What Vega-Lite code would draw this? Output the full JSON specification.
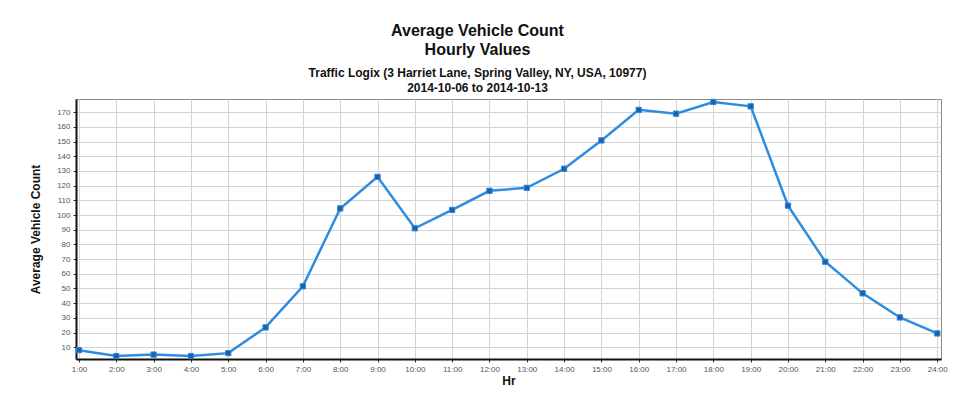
{
  "$schema": "https://vega.github.io/schema/vega-lite/v6.json",
  "width": 865,
  "height": 260,
  "autosize": {"type": "none"},
  "padding": {"left": 76, "top": 99, "right": 14, "bottom": 47},
  "background": "white",
  "title": {
    "text": ["Average Vehicle Count", "Hourly Values"],
    "subtitle": ["Traffic Logix (3 Harriet Lane, Spring Valley, NY, USA, 10977)", "2014-10-06 to 2014-10-13"],
    "anchor": "middle",
    "dx": -31,
    "offset": 3,
    "font": "Liberation Sans",
    "fontSize": 16,
    "fontWeight": "bold",
    "lineHeight": 19,
    "color": "#111",
    "subtitleFont": "Liberation Sans",
    "subtitleFontSize": 12,
    "subtitleFontWeight": "bold",
    "subtitleLineHeight": 15,
    "subtitleColor": "#111",
    "subtitlePadding": 10
  },
  "config": {
    "view": {"stroke": "#8a8a8a", "strokeWidth": 1},
    "axis": {
      "labelFont": "Liberation Sans",
      "labelFontSize": 8,
      "labelColor": "#555",
      "titleFont": "Liberation Sans",
      "titleFontSize": 12,
      "titleFontWeight": "bold",
      "titleColor": "#111",
      "gridColor": "#d4d4d4",
      "gridWidth": 1,
      "domainColor": "#111",
      "domainWidth": 2,
      "tickColor": "#333",
      "tickSize": 3
    }
  },
  "data": {
    "values": [
      {"hour": 1, "count": 8},
      {"hour": 2, "count": 4},
      {"hour": 3, "count": 5},
      {"hour": 4, "count": 4},
      {"hour": 5, "count": 6},
      {"hour": 6, "count": 23.5},
      {"hour": 7, "count": 51.5},
      {"hour": 8, "count": 104.5},
      {"hour": 9, "count": 126},
      {"hour": 10, "count": 91},
      {"hour": 11, "count": 103.5},
      {"hour": 12, "count": 116.5},
      {"hour": 13, "count": 118.5},
      {"hour": 14, "count": 131.5},
      {"hour": 15, "count": 150.8},
      {"hour": 16, "count": 171.6},
      {"hour": 17, "count": 169},
      {"hour": 18, "count": 177},
      {"hour": 19, "count": 174},
      {"hour": 20, "count": 106.4},
      {"hour": 21, "count": 68.2},
      {"hour": 22, "count": 46.7},
      {"hour": 23, "count": 30.3},
      {"hour": 24, "count": 19.4}
    ]
  },
  "encoding": {
    "x": {
      "field": "hour",
      "type": "quantitative",
      "title": "Hr",
      "scale": {"domain": [0.92, 24.1], "nice": false, "zero": false},
      "axis": {
        "values": [1,2,3,4,5,6,7,8,9,10,11,12,13,14,15,16,17,18,19,20,21,22,23,24],
        "labelExpr": "datum.value + ':00'",
        "labelPadding": 3,
        "titlePadding": 2
      }
    },
    "y": {
      "field": "count",
      "type": "quantitative",
      "title": "Average Vehicle Count",
      "scale": {"domain": [2, 179], "nice": false, "zero": false},
      "axis": {
        "values": [10,20,30,40,50,60,70,80,90,100,110,120,130,140,150,160,170],
        "labelPadding": 3,
        "titlePadding": 14
      }
    }
  },
  "layer": [
    {
      "mark": {"type": "line", "color": "#2e8ce0", "strokeWidth": 2.5}
    },
    {
      "mark": {"type": "point", "shape": "square", "filled": true, "size": 28, "color": "#1d5fa8", "opacity": 1, "stroke": "#2e8ce0", "strokeWidth": 1}
    }
  ]
}
